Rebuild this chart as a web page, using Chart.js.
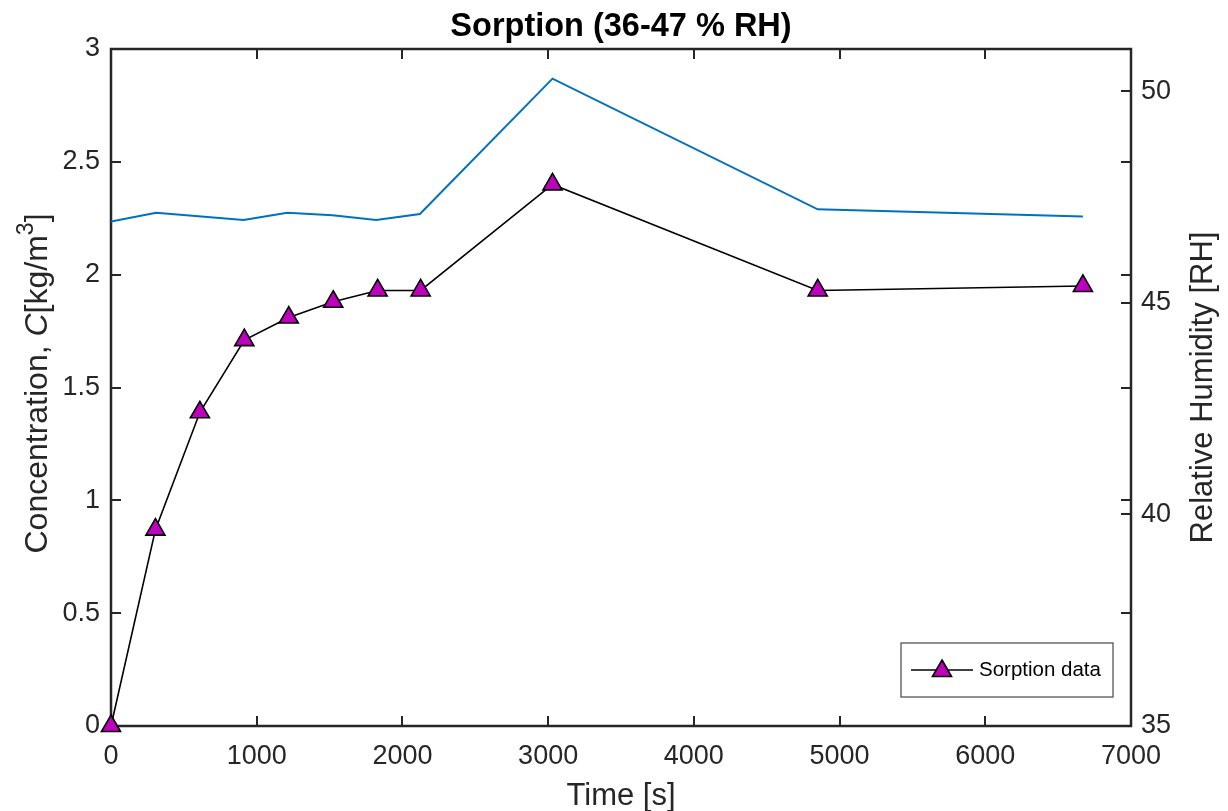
<!DOCTYPE html>
<html lang="en">
<head>
  <meta charset="UTF-8">
  <title>Sorption (36-47 % RH)</title>
  <script src="https://cdn.jsdelivr.net/npm/chart.js"></script>
  <style>
    body {
      margin: 0;
      background: #ffffff;
    }
    #wrap {
      width: 1228px;
      height: 811px;
    }
  </style>
</head>
<body>
  <div id="wrap"><canvas id="sorptionChart" width="1228" height="811"></canvas></div>
  <script>
    // sorption data (left axis)
    const sorptionTime = [0, 305, 610, 915, 1220, 1525, 1830, 2125, 3030, 4850, 6670];
    const sorptionConc = [0, 0.87, 1.39, 1.71, 1.81, 1.88, 1.93, 1.93, 2.40, 1.93, 1.95];

    // relative humidity (right axis)
    const rhTime = [0, 310, 910, 1210, 1520, 1820, 2120, 3030, 4850, 6670];
    const rhValue = [46.92, 47.13, 46.96, 47.13, 47.07, 46.96, 47.10, 50.30, 47.21, 47.04];

    // tick labels
    const xTicks = [0, 1000, 2000, 3000, 4000, 5000, 6000, 7000];
    const xTickLabels = ['0', '1000', '2000', '3000', '4000', '5000', '6000', '7000'];
    const yTicks = [0, 0.5, 1, 1.5, 2, 2.5, 3];
    const yTickLabels = ['0', '0.5', '1', '1.5', '2', '2.5', '3'];
    const rhTicks = [35, 40, 45, 50];
    const rhTickLabels = ['35', '40', '45', '50'];

    const AXIS_COLOR = '#262626';
    const FONT = '"Liberation Sans", Arial, Helvetica, sans-serif';

    const toPoints = (xs, ys) => xs.map((x, i) => ({ x: x, y: ys[i] }));

    // frame + inward ticks like the original figure
    const frameTicks = {
      id: 'frameTicks',
      beforeDatasetsDraw(chart) {
        const { ctx, chartArea: a, scales } = chart;
        const len = 10;
        ctx.save();
        ctx.strokeStyle = AXIS_COLOR;
        ctx.lineWidth = 2;
        ctx.beginPath();
        xTicks.forEach(v => {
          const px = Math.round(scales.x.getPixelForValue(v));
          if (v === 0 || v === 7000) return;
          ctx.moveTo(px, a.bottom);
          ctx.lineTo(px, a.bottom - len);
          ctx.moveTo(px, a.top);
          ctx.lineTo(px, a.top + len);
        });
        yTicks.forEach(v => {
          const py = Math.round(scales.y.getPixelForValue(v));
          if (v === 0 || v === 3) return;
          ctx.moveTo(a.left, py);
          ctx.lineTo(a.left + len, py);
          ctx.moveTo(a.right, py);
          ctx.lineTo(a.right - len, py);
        });
        rhTicks.forEach(v => {
          const py = Math.round(scales.y2.getPixelForValue(v));
          if (v === 35) return;
          ctx.moveTo(a.right, py);
          ctx.lineTo(a.right - len, py);
        });
        ctx.stroke();
        ctx.lineWidth = 2.5;
        ctx.strokeRect(a.left, a.top, a.right - a.left, a.bottom - a.top);
        ctx.restore();
      },
      afterDraw(chart) {
        const { ctx, chartArea: a } = chart;
        const cx = (a.left + a.right) / 2;
        const cy = (a.top + a.bottom) / 2;
        ctx.save();

        // title
        ctx.fillStyle = '#000000';
        ctx.font = 'bold 32.5px ' + FONT;
        ctx.textAlign = 'center';
        ctx.textBaseline = 'middle';
        ctx.fillText('Sorption (36-47 % RH)', cx, 27);

        // x title
        ctx.fillStyle = AXIS_COLOR;
        ctx.font = '31px ' + FONT;
        ctx.textBaseline = 'alphabetic';
        ctx.fillText('Time [s]', cx, 805);

        // left title, mixed styles
        const parts = [
          { t: 'Concentration, ', f: '32px ' + FONT, dy: 0 },
          { t: 'C', f: 'italic 32px ' + FONT, dy: 0 },
          { t: '[kg/m', f: '32px ' + FONT, dy: 0 },
          { t: '3', f: '23px ' + FONT, dy: -14 },
          { t: ']', f: '32px ' + FONT, dy: 0 }
        ];
        let total = 0;
        parts.forEach(p => { ctx.font = p.f; p.w = ctx.measureText(p.t).width; total += p.w; });
        ctx.save();
        ctx.translate(47, cy - 4);
        ctx.rotate(-Math.PI / 2);
        ctx.textAlign = 'left';
        let tx = -total / 2;
        parts.forEach(p => {
          ctx.font = p.f;
          ctx.fillText(p.t, tx, p.dy);
          tx += p.w;
        });
        ctx.restore();

        // right title
        ctx.save();
        ctx.translate(1212, cy);
        ctx.rotate(-Math.PI / 2);
        ctx.font = '31px ' + FONT;
        ctx.textAlign = 'center';
        ctx.fillText('Relative Humidity [RH]', 0, 0);
        ctx.restore();

        // legend box
        const ds = chart.data.datasets[0];
        ctx.fillStyle = '#ffffff';
        ctx.fillRect(901, 643, 212, 54);
        ctx.strokeStyle = '#555555';
        ctx.lineWidth = 1.3;
        ctx.strokeRect(901, 643, 212, 54);
        ctx.strokeStyle = ds.borderColor;
        ctx.lineWidth = ds.borderWidth;
        ctx.beginPath();
        ctx.moveTo(911, 670);
        ctx.lineTo(973, 670);
        ctx.stroke();
        ctx.fillStyle = ds.pointBackgroundColor;
        ctx.strokeStyle = ds.pointBorderColor;
        ctx.lineWidth = ds.pointBorderWidth;
        Chart.helpers.drawPoint(ctx, { pointStyle: 'triangle', radius: ds.pointRadius, borderWidth: ds.pointBorderWidth }, 942, 671);
        ctx.fillStyle = '#000000';
        ctx.font = '20.5px ' + FONT;
        ctx.textAlign = 'left';
        ctx.textBaseline = 'middle';
        ctx.fillText(ds.label, 979, 670);
        ctx.restore();
      }
    };

    const tickFont = { family: FONT, size: 27 };

    const chart = new Chart(document.getElementById('sorptionChart'), {
      type: 'line',
      data: {
        datasets: [
          {
            label: 'Sorption data',
            data: toPoints(sorptionTime, sorptionConc),
            yAxisID: 'y',
            borderColor: '#000000',
            borderWidth: 1.6,
            pointStyle: 'triangle',
            pointRadius: 11,
            pointBackgroundColor: '#BF00BF',
            pointBorderColor: '#000000',
            pointBorderWidth: 1.6,
            tension: 0,
            clip: false
          },
          {
            label: 'RH',
            data: toPoints(rhTime, rhValue),
            yAxisID: 'y2',
            borderColor: '#0072BD',
            borderWidth: 2,
            pointRadius: 0,
            tension: 0
          }
        ]
      },
      options: {
        responsive: false,
        animation: false,
        layout: { padding: { top: 49, left: 0, right: 0, bottom: 0 } },
        plugins: {
          legend: { display: false },
          title: { display: false },
          tooltip: { enabled: false }
        },
        scales: {
          x: {
            type: 'linear',
            min: 0,
            max: 7000,
            grid: { display: false, drawTicks: false },
            border: { display: false },
            afterBuildTicks: s => { s.ticks = xTicks.map(v => ({ value: v })); },
            afterFit: s => { s.height = 85; },
            ticks: {
              font: tickFont,
              color: AXIS_COLOR,
              padding: 14,
              maxRotation: 0,
              autoSkip: false,
              callback: (v, i) => xTickLabels[i]
            }
          },
          y: {
            type: 'linear',
            position: 'left',
            min: 0,
            max: 3,
            grid: { display: false, drawTicks: false },
            border: { display: false },
            afterBuildTicks: s => { s.ticks = yTicks.map(v => ({ value: v })); },
            afterFit: s => { s.width = 111; },
            ticks: {
              font: tickFont,
              color: AXIS_COLOR,
              padding: 11,
              autoSkip: false,
              callback: (v, i) => yTickLabels[i]
            }
          },
          y2: {
            type: 'linear',
            position: 'right',
            min: 35,
            max: 51,
            grid: { display: false, drawTicks: false },
            border: { display: false },
            afterBuildTicks: s => { s.ticks = rhTicks.map(v => ({ value: v })); },
            afterFit: s => { s.width = 97; },
            ticks: {
              font: tickFont,
              color: AXIS_COLOR,
              padding: 10,
              autoSkip: false,
              callback: (v, i) => rhTickLabels[i]
            }
          }
        }
      },
      plugins: [frameTicks]
    });
  </script>
</body>
</html>
